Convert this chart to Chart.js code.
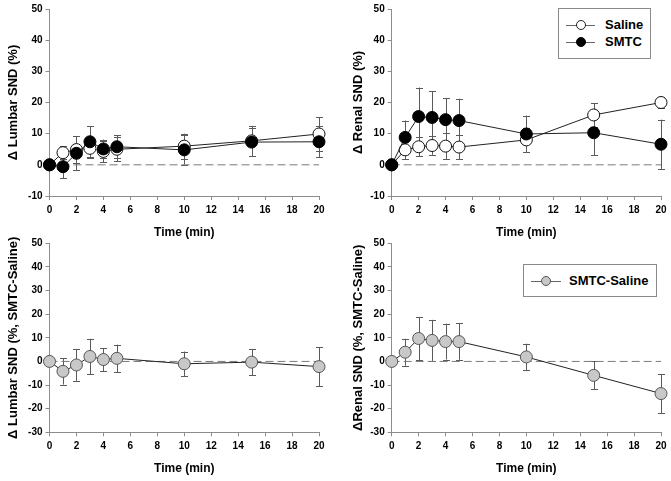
<!DOCTYPE html>
<html><head><meta charset="utf-8">
<script src="https://cdn.jsdelivr.net/npm/chart.js@4.4.0/dist/chart.umd.min.js"></script>
<style>
body{margin:0;background:#fff;width:671px;height:481px;overflow:hidden;position:relative;font-family:'Liberation Sans',Arial,sans-serif;}
canvas{position:absolute;}
.lg{position:absolute;border:1px solid #8a8a8a;background:#fff;font-weight:bold;font-size:13px;color:#000;box-sizing:border-box;}
.it{position:absolute;height:16px;line-height:16px;}
.ln{position:absolute;height:1px;background:#666;top:8px;}
.dot{position:absolute;width:10px;height:10px;border-radius:50%;box-sizing:border-box;top:3px;}
.tx{position:absolute;white-space:nowrap;}
</style>
</head><body>
<canvas id="c1" width="335" height="240" style="left:0;top:0"></canvas>
<canvas id="c2" width="336" height="240" style="left:335px;top:0"></canvas>
<canvas id="c3" width="335" height="261" style="left:0;top:220px"></canvas>
<canvas id="c4" width="336" height="261" style="left:335px;top:220px"></canvas>

<div class="lg" style="left:558px;top:8px;width:93px;height:51px;">
  <div class="it" style="left:7px;top:8px;width:80px;">
    <div class="ln" style="left:0;width:29px;"></div>
    <div class="dot" style="left:10px;background:#fff;border:1px solid #222;"></div>
    <div class="tx" style="left:39px;">Saline</div>
  </div>
  <div class="it" style="left:7px;top:25px;width:80px;">
    <div class="ln" style="left:0;width:29px;"></div>
    <div class="dot" style="left:10px;background:#000;border:1px solid #000;"></div>
    <div class="tx" style="left:39px;">SMTC</div>
  </div>
</div>
<div class="lg" style="left:523px;top:264px;width:134px;height:33px;">
  <div class="it" style="left:7px;top:8px;width:120px;">
    <div class="ln" style="left:0;width:30px;"></div>
    <div class="dot" style="left:10px;background:#c8c8c8;border:1px solid #555;"></div>
    <div class="tx" style="left:38px;">SMTC-Saline</div>
  </div>
</div>

<script>
// ---- data ----
const time = [0, 1, 2, 3, 4, 5, 10, 15, 20];
const xTicks = [0, 2, 4, 6, 8, 10, 12, 14, 16, 18, 20];

const lumbarSaline    = [0, 3.9, 4.9, 5.3, 4.3, 5.0, 6.0, 7.7, 9.9];
const lumbarSalineErr = [0, 2.0, 4.3, 3.0, 3.5, 3.8, 4.0, 4.8, 5.4];
const lumbarSMTC      = [0, -0.6, 3.7, 7.4, 5.1, 5.8, 4.8, 7.3, 7.4];
const lumbarSMTCErr   = [0, 3.7, 5.4, 5.0, 3.0, 3.7, 4.7, 4.5, 4.9];

const renalSaline     = [0, 4.8, 5.8, 6.2, 6.0, 5.7, 8.0, 16.0, 20.0];
const renalSalineErr  = [0, 3.0, 3.0, 3.0, 4.1, 3.8, 3.9, 3.8, 1.8];
const renalSMTC       = [0, 8.8, 15.5, 15.2, 14.5, 14.2, 9.9, 10.3, 6.6];
const renalSMTCErr    = [0, 5.4, 9.3, 8.5, 6.9, 7.0, 5.9, 7.3, 7.9];

const lumbarDiff      = [0, -4.2, -1.5, 2.1, 0.8, 1.3, -1.0, -0.3, -2.2];
const lumbarDiffErr   = [0, 5.6, 6.7, 7.5, 4.9, 5.8, 5.2, 5.5, 8.2];
const renalDiff       = [0, 3.9, 9.7, 8.9, 8.4, 8.4, 1.9, -5.9, -13.6];
const renalDiffErr    = [0, 5.7, 9.1, 8.7, 7.6, 7.7, 5.6, 5.9, 8.3];

const topRange = [-10, 50];
const bottomRange = [-30, 50];

// ---- drawing ----
const FONT = "'Liberation Sans', Arial, sans-serif";
const AXIS_COLOR = '#8c8c8c';

const errorBarPlugin = {
  id: 'errbars',
  beforeDatasetsDraw(chart) {
    const {ctx, scales: {x, y}} = chart;
    ctx.save();
    ctx.strokeStyle = '#5a5a5a';
    ctx.lineWidth = 1;
    chart.data.datasets.forEach(ds => {
      if (!ds.err) return;
      ds.data.forEach((p, i) => {
        const e = ds.err[i];
        if (!e) return;
        const px = Math.round(x.getPixelForValue(p.x)) + 0.5;
        const y1 = y.getPixelForValue(p.y + e);
        const y2 = y.getPixelForValue(p.y - e);
        ctx.beginPath();
        ctx.moveTo(px, y1); ctx.lineTo(px, y2);
        ctx.moveTo(px - 3.5, Math.round(y1) + 0.5); ctx.lineTo(px + 3.5, Math.round(y1) + 0.5);
        ctx.moveTo(px - 3.5, Math.round(y2) + 0.5); ctx.lineTo(px + 3.5, Math.round(y2) + 0.5);
        ctx.stroke();
      });
    });
    ctx.restore();
  }
};

function pts(vals) { return time.map((t, i) => ({x: t, y: vals[i]})); }

function series(vals, err, fill, border, order) {
  return {
    data: pts(vals), err: err, showLine: true, clip: false,
    borderColor: '#222', borderWidth: 1,
    pointRadius: 6, pointBorderWidth: 1,
    pointBackgroundColor: fill, pointBorderColor: border,
    order: order
  };
}

function makePanel(id, cfg) {
  const cv = document.getElementById(id);
  const W = cv.width, H = cv.height;
  const XH = 44;
  new Chart(cv, {
    type: 'scatter',
    data: {
      datasets: [
        {data: [{x: 0, y: 0}, {x: 20, y: 0}], showLine: true, pointRadius: 0,
         borderColor: '#7a7a7a', borderWidth: 1, borderDash: [8, 4], order: 10, clip: false}
      ].concat(cfg.sets)
    },
    options: {
      responsive: false, animation: false,
      layout: {padding: {left: cfg.titleLeft, right: W - cfg.r, top: cfg.t, bottom: H - cfg.b - XH}},
      plugins: {legend: {display: false}, tooltip: {enabled: false}},
      scales: {
        x: {
          type: 'linear', min: 0, max: 20,
          afterFit: s => { s.height = XH; },
          afterBuildTicks: s => { s.ticks = xTicks.map(v => ({value: v})); },
          grid: {drawOnChartArea: false, drawTicks: true, tickLength: 4, color: AXIS_COLOR},
          border: {color: AXIS_COLOR, width: 1},
          ticks: {color: '#000', padding: 4, maxRotation: 0, font: {family: FONT, size: 10, weight: 'bold'}},
          title: {display: true, text: 'Time (min)', color: '#000', padding: 0,
                  font: {family: FONT, size: 12, weight: 'bold'}}
        },
        y: {
          type: 'linear', min: cfg.range[0], max: cfg.range[1],
          afterFit: s => { s.width = cfg.l - cfg.titleLeft; },
          grid: {drawOnChartArea: false, drawTicks: true, tickLength: 4, color: AXIS_COLOR},
          border: {color: AXIS_COLOR, width: 1},
          ticks: {stepSize: 10, color: '#000', padding: 3, font: {family: FONT, size: 10, weight: 'bold'}},
          title: {display: true, text: cfg.ytitle, color: '#000', padding: 0,
                  font: {family: FONT, size: 13, weight: 'bold'}}
        }
      }
    },
    plugins: [errorBarPlugin]
  });
}

makePanel('c1', {l: 49.5, r: 319, t: 9, b: 196, titleLeft: 6, range: topRange,
  ytitle: '\u0394 Lumbar SND (%)',
  sets: [series(lumbarSMTC, lumbarSMTCErr, '#000', '#000', 1),
         series(lumbarSaline, lumbarSalineErr, '#fff', '#111', 2)]});
makePanel('c2', {l: 56.7, r: 326, t: 9, b: 196, titleLeft: 16, range: topRange,
  ytitle: '\u0394 Renal SND (%)',
  sets: [series(renalSMTC, renalSMTCErr, '#000', '#000', 1),
         series(renalSaline, renalSalineErr, '#fff', '#111', 2)]});
makePanel('c3', {l: 49.5, r: 319, t: 23.3, b: 212.3, titleLeft: 6, range: bottomRange,
  ytitle: '\u0394 Lumbar SND (%, SMTC-Saline)',
  sets: [series(lumbarDiff, lumbarDiffErr, '#c8c8c8', '#555', 1)]});
makePanel('c4', {l: 56.7, r: 326, t: 23.3, b: 212.3, titleLeft: 16, range: bottomRange,
  ytitle: '\u0394Renal SND (%, SMTC-Saline)',
  sets: [series(renalDiff, renalDiffErr, '#c8c8c8', '#555', 1)]});
</script>
</body></html>
